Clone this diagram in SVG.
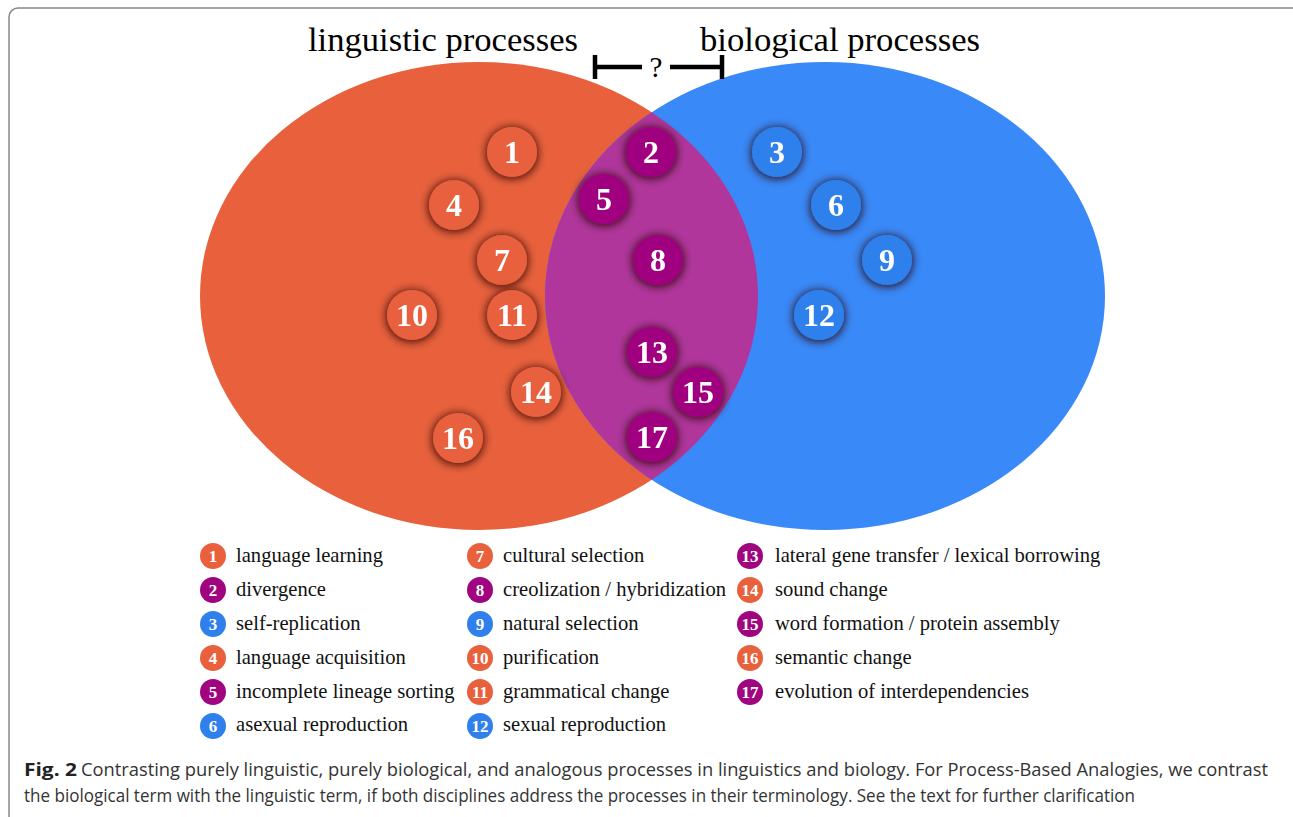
<svg xmlns="http://www.w3.org/2000/svg" width="1293" height="817" viewBox="0 0 1293 817">
<defs>
<style>
.title{font-family:"Liberation Serif",serif;font-size:34px;fill:#000}
.num{font-family:"Liberation Serif",serif;font-weight:bold;font-size:32px;fill:#fff;text-anchor:middle}
.lnum{font-family:"Liberation Serif",serif;font-weight:bold;font-size:17px;fill:#fff;text-anchor:middle}
.leg{font-family:"Liberation Serif",serif;font-size:20.6px;fill:#111}
.cap{font-family:"Open Sans","Liberation Sans",sans-serif;font-size:17.5px;fill:#333}
.o{fill:#E8613C}
.p{fill:#A0057F}
.b{fill:#2F80EC}
.badge{filter:url(#sh)}
</style>
<filter id="sh" x="-40%" y="-40%" width="180%" height="180%">
<feMorphology in="SourceAlpha" operator="dilate" radius="1" result="d"/>
<feGaussianBlur in="d" stdDeviation="4" result="bl"/>
<feOffset in="bl" dx="0" dy="1" result="of"/>
<feFlood flood-color="#2a0800" flood-opacity="0.85"/>
<feComposite in2="of" operator="in" result="s"/>
<feMerge><feMergeNode in="s"/><feMergeNode in="SourceGraphic"/></feMerge>
</filter>
<clipPath id="orangeClip"><ellipse cx="479" cy="296" rx="279" ry="234"/></clipPath>
</defs>
<rect x="9" y="8" width="1400" height="900" rx="9" fill="#fff" stroke="#888" stroke-width="1.5"/>

<g id="sets">
<ellipse cx="479" cy="296" rx="279" ry="234" fill="#E8613C"/>
<ellipse cx="825" cy="296" rx="280" ry="234" fill="#3A89F8"/>
<ellipse cx="825" cy="296" rx="280" ry="234" fill="#B0369B" clip-path="url(#orangeClip)"/>
</g>

<g id="titles">
<text class="title" x="308" y="51" textLength="270" lengthAdjust="spacingAndGlyphs">linguistic processes</text>
<text class="title" x="700" y="51" textLength="280" lengthAdjust="spacingAndGlyphs">biological processes</text>
</g>
<g id="connectors">
<path d="M595,55 V79 M595,67 H642 M670,67 H722 M722,55 V79" stroke="#000" stroke-width="4.5" fill="none"/>
<text x="656" y="77" style="font-family:'Liberation Serif',serif;font-size:29px" text-anchor="middle">?</text>
</g>

<g id="n1" class="badge"><circle class="o" cx="512" cy="152" r="25"/><text class="num" x="512" y="163">1</text></g>
<g id="n2" class="badge"><circle class="p" cx="651" cy="152" r="25"/><text class="num" x="651" y="163">2</text></g>
<g id="n3" class="badge"><circle class="b" cx="777" cy="152" r="25"/><text class="num" x="777" y="163">3</text></g>
<g id="n4" class="badge"><circle class="o" cx="454" cy="205" r="25"/><text class="num" x="454" y="216">4</text></g>
<g id="n5" class="badge"><circle class="p" cx="604" cy="199" r="25"/><text class="num" x="604" y="210">5</text></g>
<g id="n6" class="badge"><circle class="b" cx="836" cy="205" r="25"/><text class="num" x="836" y="216">6</text></g>
<g id="n7" class="badge"><circle class="o" cx="502" cy="260" r="25"/><text class="num" x="502" y="271">7</text></g>
<g id="n8" class="badge"><circle class="p" cx="658" cy="260" r="25"/><text class="num" x="658" y="271">8</text></g>
<g id="n9" class="badge"><circle class="b" cx="887" cy="260" r="25"/><text class="num" x="887" y="271">9</text></g>
<g id="n10" class="badge"><circle class="o" cx="412" cy="315" r="25"/><text class="num" x="412" y="326">10</text></g>
<g id="n11" class="badge"><circle class="o" cx="512" cy="315" r="25"/><text class="num" x="512" y="326">11</text></g>
<g id="n12" class="badge"><circle class="b" cx="819" cy="315" r="25"/><text class="num" x="819" y="326">12</text></g>
<g id="n13" class="badge"><circle class="p" cx="652" cy="352" r="25"/><text class="num" x="652" y="363">13</text></g>
<g id="n14" class="badge"><circle class="o" cx="536" cy="392" r="25"/><text class="num" x="536" y="403">14</text></g>
<g id="n15" class="badge"><circle class="p" cx="698" cy="392" r="25"/><text class="num" x="698" y="403">15</text></g>
<g id="n16" class="badge"><circle class="o" cx="458" cy="438" r="25"/><text class="num" x="458" y="449">16</text></g>
<g id="n17" class="badge"><circle class="p" cx="652" cy="437" r="25"/><text class="num" x="652" y="448">17</text></g>

<g id="legend">
<circle class="o" cx="213" cy="556" r="13"/><text class="lnum" x="213" y="562">1</text><text class="leg" x="236" y="562">language learning</text>
<circle class="p" cx="213" cy="590" r="13"/><text class="lnum" x="213" y="596">2</text><text class="leg" x="236" y="596">divergence</text>
<circle class="b" cx="213" cy="624" r="13"/><text class="lnum" x="213" y="630">3</text><text class="leg" x="236" y="630">self-replication</text>
<circle class="o" cx="213" cy="658" r="13"/><text class="lnum" x="213" y="664">4</text><text class="leg" x="236" y="664">language acquisition</text>
<circle class="p" cx="213" cy="692" r="13"/><text class="lnum" x="213" y="698">5</text><text class="leg" x="236" y="698">incomplete lineage sorting</text>
<circle class="b" cx="213" cy="726" r="13"/><text class="lnum" x="213" y="732">6</text><text class="leg" x="236" y="731">asexual reproduction</text>

<circle class="o" cx="480" cy="556" r="13"/><text class="lnum" x="480" y="562">7</text><text class="leg" x="503" y="562">cultural selection</text>
<circle class="p" cx="480" cy="590" r="13"/><text class="lnum" x="480" y="596">8</text><text class="leg" x="503" y="596">creolization / hybridization</text>
<circle class="b" cx="480" cy="624" r="13"/><text class="lnum" x="480" y="630">9</text><text class="leg" x="503" y="630">natural selection</text>
<circle class="o" cx="480" cy="658" r="13"/><text class="lnum" x="480" y="664">10</text><text class="leg" x="503" y="664">purification</text>
<circle class="o" cx="480" cy="692" r="13"/><text class="lnum" x="480" y="698">11</text><text class="leg" x="503" y="698">grammatical change</text>
<circle class="b" cx="480" cy="726" r="13"/><text class="lnum" x="480" y="732">12</text><text class="leg" x="503" y="731">sexual reproduction</text>

<circle class="p" cx="750" cy="556" r="13"/><text class="lnum" x="750" y="562">13</text><text class="leg" x="775" y="562">lateral gene transfer / lexical borrowing</text>
<circle class="o" cx="750" cy="590" r="13"/><text class="lnum" x="750" y="596">14</text><text class="leg" x="775" y="596">sound change</text>
<circle class="p" cx="750" cy="624" r="13"/><text class="lnum" x="750" y="630">15</text><text class="leg" x="775" y="630">word formation / protein assembly</text>
<circle class="o" cx="750" cy="658" r="13"/><text class="lnum" x="750" y="664">16</text><text class="leg" x="775" y="664">semantic change</text>
<circle class="p" cx="750" cy="692" r="13"/><text class="lnum" x="750" y="698">17</text><text class="leg" x="775" y="698">evolution of interdependencies</text>
</g>

<g id="caption">
<text class="cap" x="24" y="776" style="font-weight:bold;fill:#222" textLength="53" lengthAdjust="spacingAndGlyphs">Fig. 2</text>
<text class="cap" x="81" y="776" textLength="1187" lengthAdjust="spacingAndGlyphs">Contrasting purely linguistic, purely biological, and analogous processes in linguistics and biology. For Process-Based Analogies, we contrast</text>
<text class="cap" x="24" y="802" textLength="1111" lengthAdjust="spacingAndGlyphs">the biological term with the linguistic term, if both disciplines address the processes in their terminology. See the text for further clarification</text>
</g>
</svg>
